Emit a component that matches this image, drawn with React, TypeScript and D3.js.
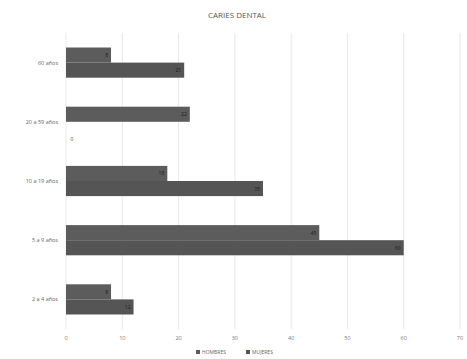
import React from "react";
import * as d3 from "d3";

const categories = ["60 años", "20 a 59 años", "10 a 19 años", "5 a 9 años", "2 a 4 años"];
const hombres = [8, 22, 18, 45, 8];
const mujeres = [21, 0, 35, 60, 12];
const seriesNames = ["HOMBRES", "MUJERES"];
const xTicks = [0, 10, 20, 30, 40, 50, 60, 70];

const W = 467, H = 359;
const M = { left: 66, right: 7, top: 33, bottom: 30 };

export default function App() {
  const x = d3.scaleLinear().domain([0, 70]).range([M.left, W - M.right]);
  const y = d3.scaleBand<string>().domain(categories).range([M.top, H - M.bottom]).paddingInner(0.49).paddingOuter(0.245);
  const sub = d3.scaleBand<string>().domain(seriesNames).range([0, y.bandwidth()]);
  const colors = ["#5c5c5c", "#555555"];
  const data = [hombres, mujeres];
  return (
    <svg width={W} height={H} style={{ position: "absolute", left: 0, top: 0, background: "#fff" }} fontFamily="'Open Sans', sans-serif">
      <text x={237} y={18} textAnchor="middle" fontSize={8} fill="#555">CARIES DENTAL</text>
      {xTicks.map((t) => (
        <g key={t}>
          <line x1={x(t)} x2={x(t)} y1={M.top} y2={H - M.bottom} stroke="#e2e2e2" strokeWidth={0.8} />
          <text x={x(t)} y={340} textAnchor="middle" fontSize={5.5} fill="#777">{t}</text>
        </g>
      ))}
      {categories.map((c, i) => (
        <g key={c}>
          <text x={58} y={(y(c) as number) + y.bandwidth() / 2 + 2} textAnchor="end" fontSize={5.5} fill="#666">{c}</text>
          {data.map((s, j) => {
            const v = s[i];
            const by = (y(c) as number) + (sub(seriesNames[j]) as number);
            const bh = sub.bandwidth();
            return (
              <g key={j}>
                <rect x={x(0)} y={by} width={x(v) - x(0)} height={bh} fill={colors[j]} />
                <text x={v === 0 ? x(0) + 6 : x(v) - 3} y={v === 0 ? by + bh + 4 : by + bh / 2 + 2} textAnchor={v === 0 ? "middle" : "end"} fontSize={5} fill={v === 0 ? "#555" : "#1a1a1a"}>{v}</text>
              </g>
            );
          })}
        </g>
      ))}
      <g fontSize={5} fill="#666">
        <rect x={196} y={350} width={4} height={4} fill={colors[0]} />
        <text x={202} y={354}>{seriesNames[0]}</text>
        <rect x={246} y={350} width={4} height={4} fill={colors[1]} />
        <text x={252} y={354}>{seriesNames[1]}</text>
      </g>
    </svg>
  );
}
